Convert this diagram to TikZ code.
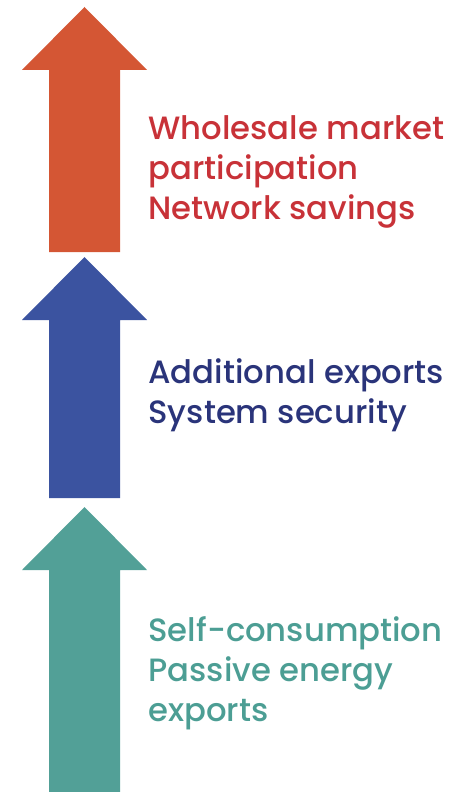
\documentclass[tikz,border=0pt]{standalone}
\usepackage{fontspec}
\IfFontExistsTF{Poppins Medium}{\setmainfont{Poppins Medium}}{\setmainfont{Poppins}[FakeBold=0.6]}
\definecolor{arrowRed}{RGB}{212,86,52}
\definecolor{arrowBlue}{RGB}{59,83,160}
\definecolor{arrowTeal}{RGB}{82,160,151}
\definecolor{textRed}{RGB}{200,50,56}
\definecolor{textBlue}{RGB}{42,52,122}
\definecolor{textTeal}{RGB}{76,158,148}
\tikzset{every picture/.style={line width=0.75pt},
  benefit/.style={anchor=base west,align=left,inner sep=0pt,
    font=\fontsize{24.2}{30}\selectfont}}
\begin{document}
\begin{tikzpicture}[x=0.75pt,y=0.75pt,yscale=-1,xscale=1]
\useasboundingbox (0,0) rectangle (463,792); %set diagram size 463x792

%Shape: Up Arrow [id:top]
\fill [arrowRed] (49,252) -- (49,70) -- (22,70) -- (84.5,7) -- (147,70) -- (120,70) -- (120,252) -- cycle ;
%Shape: Up Arrow [id:middle]
\fill [arrowBlue] (49,498) -- (49,320) -- (22,320) -- (84.5,257) -- (147,320) -- (120,320) -- (120,498) -- cycle ;
%Shape: Up Arrow [id:bottom]
\fill [arrowTeal] (49,792) -- (49,570) -- (22,570) -- (84.5,507) -- (147,570) -- (120,570) -- (120,792) -- cycle ;

% Text Node (anchored at last baseline)
\node [benefit,text=textRed] (wholesale) at (148,219) {Wholesale market\\participation\\Network savings};
% Text Node
\node [benefit,text=textBlue] (exports) at (148,423) {Additional exports\\System security};
% Text Node
\node [benefit,text=textTeal] (selfcons) at (148,721) {Self-consumption\\Passive energy\\exports};

\end{tikzpicture}
\end{document}
